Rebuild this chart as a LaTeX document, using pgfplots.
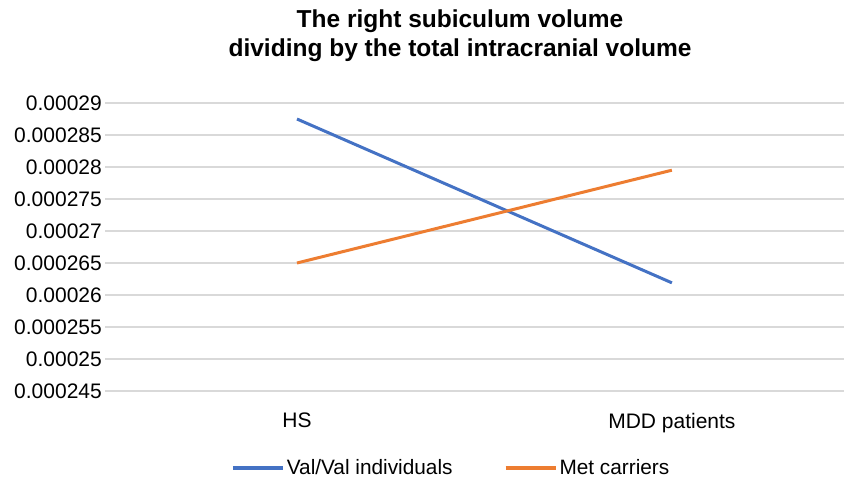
\documentclass[border=0pt]{standalone}
\usepackage{pgfplots}
\pgfplotsset{compat=1.18}
\usepackage{fontspec}
\setmainfont{Liberation Sans}
\definecolor{exblue}{HTML}{4472C4}
\definecolor{exorange}{HTML}{ED7D31}
\definecolor{gridgray}{HTML}{D9D9D9}
\begin{document}
\begin{tikzpicture}
\path[use as bounding box] (0,0) rectangle (844bp,481bp);
\begin{axis}[
  at={(105bp,90bp)}, anchor=south west,
  width=739bp, height=288bp, scale only axis,
  xmin=-0.512, xmax=1.459,
  ymin=0.000245, ymax=0.00029,
  xtick=data,
  xticklabels={HS,MDD patients},
  ytick={0.000245,0.00025,0.000255,0.00026,0.000265,0.00027,0.000275,0.00028,0.000285,0.00029},
  yticklabels={0.000245,0.00025,0.000255,0.00026,0.000265,0.00027,0.000275,0.00028,0.000285,0.00029},
  scaled y ticks=false,
  ymajorgrids, grid style={gridgray, line width=2bp},
  axis line style={draw=none},
  major tick length=0pt,
  tick label style={font=\fontsize{21bp}{25bp}\selectfont},
  yticklabel style={anchor=east, inner sep=0pt, xshift=-3bp},
  xticklabel style={anchor=north, inner sep=0pt, yshift=-22bp},
  legend columns=2,
  legend style={draw=none, fill=none, at={(0.166,-0.267)}, anchor=west,
    font=\fontsize{20.8bp}{25bp}\selectfont,
    /tikz/every even column/.append style={column sep=49bp}},
  legend image code/.code={\draw[#1, line width=4bp] (0bp,0bp) -- (50bp,0bp);},
]
\addplot[exblue, line width=3bp] coordinates {(0,0.0002875) (1,0.0002619)};
\addlegendentry{Val/Val individuals}
\addplot[exorange, line width=3bp] coordinates {(0,0.0002650) (1,0.0002795)};
\addlegendentry{Met carriers}
\end{axis}
\node[anchor=base, font=\bfseries\fontsize{24.5bp}{29bp}\selectfont] at (460bp,453bp) {The right subiculum volume};
\node[anchor=base, font=\bfseries\fontsize{24.5bp}{29bp}\selectfont] at (460bp,424bp) {dividing by the total intracranial volume};
\end{tikzpicture}
\end{document}
